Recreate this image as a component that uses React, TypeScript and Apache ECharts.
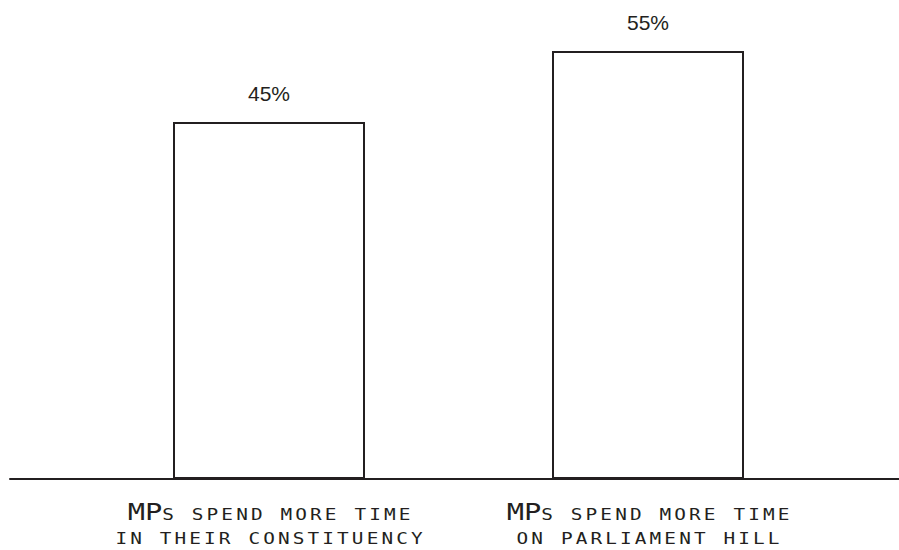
import React, { useEffect, useRef } from "react";
import * as echarts from "echarts";

const categories = [
  "MPs spend more time\nin their constituency",
  "MPs spend more time\non parliament hill",
];
const values = [45, 55];
const yMin = -5.3;
const yMax = 60;

const INK = "#231f20";
const MONO = "'DejaVu Sans Mono', monospace";

// Small-caps rendering: capital runs stay large, the rest is set as small capitals.
const toRich = (line: string) =>
  line
    .split(/([A-Z]+)/)
    .filter(Boolean)
    .map((p) => (/^[A-Z]+$/.test(p) ? `{c|${p}}` : `{s|${p.toUpperCase()}}`))
    .join("");

export default function App() {
  const ref = useRef<HTMLDivElement>(null);

  useEffect(() => {
    const el = ref.current!;
    const chart = echarts.init(el, undefined, { renderer: "svg" });
    const option: any = {
      animation: false,
      backgroundColor: "#ffffff",
      grid: [
        { left: 79.5, right: 61.5, top: 15.4, bottom: 71, containLabel: false },
        { left: 10, right: 0, top: 15.4, bottom: 71, containLabel: false },
      ],
      xAxis: [
        {
          type: "category",
          gridIndex: 0,
          data: categories,
          axisLine: { show: false },
          axisTick: { show: false },
          axisLabel: {
            interval: 0,
            margin: 20,
            color: INK,
            fontFamily: MONO,
            fontSize: 15.5,
            lineHeight: 24.5,
            formatter: (v: string) => v.split("\n").map(toRich).join("\n"),
            rich: {
              c: {
                fontFamily: MONO,
                fontSize: 23,
                lineHeight: 24.5,
                color: INK,
                align: "center",
                verticalAlign: "middle",
              },
              s: {
                fontFamily: MONO,
                fontSize: 15.5,
                lineHeight: 24.5,
                color: INK,
                align: "center",
                verticalAlign: "middle",
              },
            },
          },
        },
        {
          type: "value",
          gridIndex: 1,
          min: 0,
          max: 1,
          axisLine: { show: true, onZero: false, lineStyle: { color: INK, width: 2 } },
          axisTick: { show: false },
          axisLabel: { show: false },
          splitLine: { show: false },
        },
      ],
      yAxis: [
        {
          type: "value",
          gridIndex: 0,
          min: yMin,
          max: yMax,
          startValue: yMin,
          show: false,
          splitLine: { show: false },
        },
        { type: "value", gridIndex: 1, min: 0, max: 1, show: false, splitLine: { show: false } },
      ],
      series: [
        {
          type: "bar",
          xAxisIndex: 0,
          yAxisIndex: 0,
          data: values,
          barWidth: 192,
          itemStyle: { color: "#ffffff", borderColor: INK, borderWidth: 2 },
          label: {
            show: true,
            position: "top",
            distance: 18,
            formatter: "{c}%",
            color: INK,
            fontFamily: "'Liberation Sans', Arial, sans-serif",
            fontSize: 21,
          },
          emphasis: { disabled: true },
        },
      ],
    };
    chart.setOption(option);

    const SX = 1.25;
    const LS_S = 2.5;
    const LS_C = 0;
    const BASE = 8.75;

    const apply = () => {
      const texts = Array.from(el.querySelectorAll("text")) as SVGTextElement[];
      const labels = texts.filter((t) => {
        const s = t.textContent || "";
        return s.trim() && !s.includes("%");
      });
      labels.forEach((t) => {
        if (t.getAttribute("data-ox") === null) {
          t.style.letterSpacing = "0px";
          const w = t.getComputedTextLength();
          const x = parseFloat(t.getAttribute("x") || "0") || 0;
          const anchor = t.getAttribute("text-anchor") || "start";
          const k = anchor === "middle" ? 0.5 : anchor === "end" ? 1 : 0;
          t.setAttribute("data-ox", String(x));
          t.setAttribute("data-left", String(x - w * k));
          t.setAttribute("data-ow", String(w));
          t.setAttribute("data-oy", t.getAttribute("y") || "0");
          t.setAttribute("data-otf", t.getAttribute("transform") || "");
          t.setAttribute("data-fs", String(parseFloat(getComputedStyle(t).fontSize) || 0));
        }
      });
      const groups: Record<string, SVGTextElement[]> = {};
      labels.forEach((t) => {
        const key = (t.getAttribute("data-otf") || "") + "|" + (t.getAttribute("data-oy") || "");
        (groups[key] = groups[key] || []).push(t);
      });
      Object.values(groups).forEach((g) => {
        g.sort(
          (a, b) =>
            parseFloat(a.getAttribute("data-left")!) - parseFloat(b.getAttribute("data-left")!)
        );
        let minL = Infinity;
        let maxR = -Infinity;
        g.forEach((t) => {
          const l = parseFloat(t.getAttribute("data-left")!);
          const w = parseFloat(t.getAttribute("data-ow")!);
          minL = Math.min(minL, l);
          maxR = Math.max(maxR, l + w);
        });
        const cx = (minL + maxR) / 2;
        const widths: number[] = [];
        let lastLs = 0;
        g.forEach((t) => {
          const big = (t.textContent || "").length <= 3 && parseFloat(t.getAttribute("data-fs")!) > 18;
          const ls = big ? LS_C : LS_S;
          t.style.letterSpacing = ls + "px";
          widths.push(t.getComputedTextLength());
          lastLs = ls;
        });
        const total = widths.reduce((a, b) => a + b, 0) - lastLs;
        let x = cx - total / 2;
        const oy = parseFloat(g[0].getAttribute("data-oy") || "0");
        g.forEach((t, i) => {
          t.setAttribute("x", String(x));
          t.setAttribute("text-anchor", "start");
          t.setAttribute("dominant-baseline", "alphabetic");
          t.setAttribute("y", String(oy + BASE));
          const otf = t.getAttribute("data-otf") || "";
          t.setAttribute(
            "transform",
            `${otf} translate(${cx} 0) scale(${SX} 1) translate(${-cx} 0)`.trim()
          );
          x += widths[i];
        });
      });
    };
    apply();
    chart.on("finished", apply);
    const timer = setTimeout(apply, 50);

    return () => {
      clearTimeout(timer);
      chart.dispose();
    };
  }, []);

  return <div ref={ref} style={{ width: 899, height: 550, position: "absolute", left: 0, top: 0 }} />;
}
